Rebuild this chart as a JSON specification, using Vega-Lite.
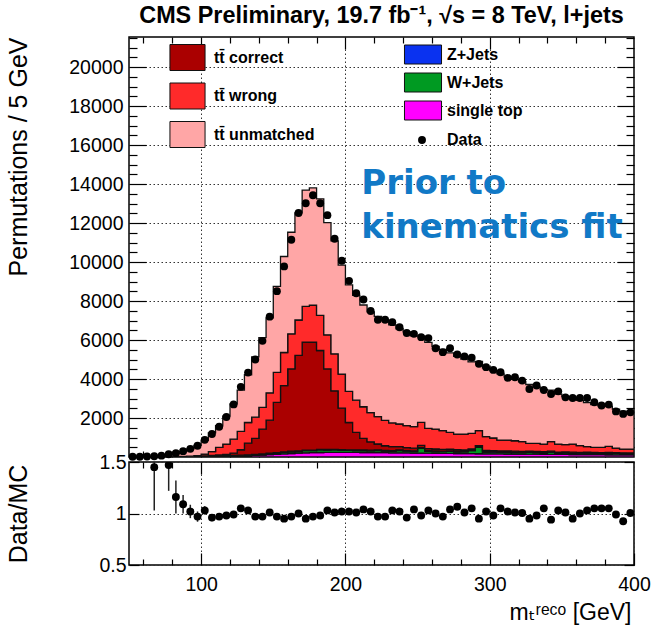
{
  "$schema": "https://vega.github.io/schema/vega-lite/v6.json",
  "padding": {"left": 5, "top": 3, "right": 0, "bottom": 0},
  "spacing": -11,
  "config": {
    "font": "Liberation Sans",
    "view": {"stroke": "#000", "strokeWidth": 1.5},
    "axis": {"domain": false, "labelFont": "Liberation Sans", "labelFontSize": 19.5, "labelColor": "#000", "tickColor": "#000", "tickWidth": 1.2, "titleFont": "Liberation Sans", "titleFontSize": 25, "titleFontWeight": "normal", "titleColor": "#000", "gridColor": "#333", "gridDash": [1.5, 2.5], "gridWidth": 1, "labelOverlap": false, "labelBound": false},
    "legend": {"labelFont": "Liberation Sans", "labelFontSize": 16, "labelFontWeight": "bold", "labelColor": "#000"}
  },
  "datasets": {
    "h": [
      {"lo":50,"m":52.5,"st":2,"wj":1,"zj":0,"c":0,"w":0,"u":1,"d":10,"r":2.5,"e":0.7},
      {"lo":55,"m":57.5,"st":3,"wj":1,"zj":0,"c":0,"w":0,"u":3,"d":15,"r":2.2,"e":0.5},
      {"lo":60,"m":62.5,"st":4,"wj":2,"zj":1,"c":1,"w":0,"u":5,"d":25,"r":1.9,"e":0.3},
      {"lo":65,"m":67.5,"st":5,"wj":2,"zj":1,"c":1,"w":1,"u":18,"d":40,"r":1.45,"e":0.42},
      {"lo":70,"m":72.5,"st":6,"wj":3,"zj":1,"c":2,"w":1,"u":28,"d":70,"r":1.75,"e":0.2},
      {"lo":75,"m":77.5,"st":8,"wj":3,"zj":2,"c":3,"w":2,"u":77,"d":140,"r":1.47,"e":0.25},
      {"lo":80,"m":82.5,"st":10,"wj":4,"zj":2,"c":5,"w":3,"u":148,"d":200,"r":1.16,"e":0.16},
      {"lo":85,"m":87.5,"st":12,"wj":5,"zj":3,"c":8,"w":4,"u":243,"d":300,"r":1.09,"e":0.09},
      {"lo":90,"m":92.5,"st":15,"wj":6,"zj":4,"c":12,"w":6,"u":370,"d":420,"r":1.02,"e":0.065},
      {"lo":95,"m":97.5,"st":18,"wj":7,"zj":5,"c":18,"w":20,"u":528,"d":580,"r":0.97,"e":0.05},
      {"lo":100,"m":102.5,"st":22,"wj":8,"zj":6,"c":25,"w":89,"u":703,"d":880,"r":1.03,"e":0.04},
      {"lo":105,"m":107.5,"st":27,"wj":10,"zj":8,"c":35,"w":192,"u":961,"d":1180,"r":0.96,"e":0.035},
      {"lo":110,"m":112.5,"st":33,"wj":12,"zj":9,"c":50,"w":390,"u":1109,"d":1550,"r":0.97,"e":0.03},
      {"lo":115,"m":117.5,"st":40,"wj":14,"zj":10,"c":70,"w":530,"u":1436,"d":2050,"r":0.98,"e":0.025},
      {"lo":120,"m":122.5,"st":48,"wj":16,"zj":12,"c":120,"w":720,"u":1811,"d":2700,"r":0.99,"e":0.02},
      {"lo":125,"m":127.5,"st":58,"wj":20,"zj":14,"c":280,"w":940,"u":2120,"d":3600,"r":1.05,"e":0.02},
      {"lo":130,"m":132.5,"st":70,"wj":25,"zj":16,"c":600,"w":1060,"u":2449,"d":4330,"r":1.03,"e":0.018},
      {"lo":135,"m":137.5,"st":85,"wj":30,"zj":18,"c":820,"w":1090,"u":3096,"d":5000,"r":0.97,"e":0.016},
      {"lo":140,"m":142.5,"st":100,"wj":40,"zj":20,"c":1270,"w":1120,"u":3575,"d":5960,"r":0.97,"e":0.015},
      {"lo":145,"m":147.5,"st":120,"wj":50,"zj":22,"c":1700,"w":1400,"u":3850,"d":7200,"r":1.01,"e":0.014},
      {"lo":150,"m":152.5,"st":140,"wj":60,"zj":24,"c":2580,"w":1540,"u":4406,"d":8510,"r":0.97,"e":0.013},
      {"lo":155,"m":157.5,"st":160,"wj":75,"zj":26,"c":3400,"w":1700,"u":4927,"d":9780,"r":0.95,"e":0.012},
      {"lo":160,"m":162.5,"st":180,"wj":90,"zj":28,"c":4220,"w":1800,"u":5214,"d":11150,"r":0.97,"e":0.011},
      {"lo":165,"m":167.5,"st":200,"wj":80,"zj":30,"c":4900,"w":1820,"u":5494,"d":12520,"r":1.0,"e":0.011},
      {"lo":170,"m":172.5,"st":215,"wj":110,"zj":30,"c":5540,"w":1830,"u":5969,"d":13020,"r":0.95,"e":0.01},
      {"lo":175,"m":177.5,"st":225,"wj":100,"zj":32,"c":5530,"w":1900,"u":6020,"d":13430,"r":0.97,"e":0.01},
      {"lo":180,"m":182.5,"st":232,"wj":130,"zj":32,"c":5070,"w":1800,"u":5984,"d":13020,"r":0.98,"e":0.01},
      {"lo":185,"m":187.5,"st":236,"wj":120,"zj":33,"c":4130,"w":1750,"u":5752,"d":12410,"r":1.03,"e":0.011},
      {"lo":190,"m":192.5,"st":238,"wj":125,"zj":33,"c":3000,"w":1900,"u":5796,"d":11200,"r":1.01,"e":0.011},
      {"lo":195,"m":197.5,"st":238,"wj":105,"zj":34,"c":2130,"w":1750,"u":5589,"d":10070,"r":1.02,"e":0.012},
      {"lo":200,"m":202.5,"st":236,"wj":100,"zj":34,"c":1400,"w":1600,"u":5463,"d":9040,"r":1.02,"e":0.012},
      {"lo":205,"m":207.5,"st":233,"wj":100,"zj":34,"c":900,"w":1650,"u":5383,"d":8400,"r":1.01,"e":0.012},
      {"lo":210,"m":212.5,"st":230,"wj":95,"zj":34,"c":600,"w":1620,"u":5221,"d":8080,"r":1.04,"e":0.012},
      {"lo":215,"m":217.5,"st":227,"wj":90,"zj":33,"c":430,"w":1500,"u":5170,"d":7490,"r":1.02,"e":0.012},
      {"lo":220,"m":222.5,"st":224,"wj":110,"zj":33,"c":300,"w":1400,"u":5153,"d":7040,"r":0.97,"e":0.012},
      {"lo":225,"m":227.5,"st":220,"wj":85,"zj":32,"c":240,"w":1300,"u":5143,"d":7040,"r":0.97,"e":0.012},
      {"lo":230,"m":232.5,"st":216,"wj":80,"zj":32,"c":200,"w":1220,"u":5032,"d":6920,"r":1.03,"e":0.012},
      {"lo":235,"m":237.5,"st":212,"wj":120,"zj":31,"c":170,"w":1160,"u":4887,"d":6660,"r":1.02,"e":0.013},
      {"lo":240,"m":242.5,"st":208,"wj":90,"zj":31,"c":150,"w":1130,"u":4811,"d":6360,"r":0.96,"e":0.013},
      {"lo":245,"m":247.5,"st":204,"wj":85,"zj":30,"c":135,"w":1100,"u":4666,"d":6320,"r":1.04,"e":0.013},
      {"lo":250,"m":252.5,"st":200,"wj":250,"zj":30,"c":120,"w":1179,"u":4420,"d":6150,"r":0.98,"e":0.013},
      {"lo":255,"m":257.5,"st":196,"wj":95,"zj":29,"c":110,"w":1040,"u":4410,"d":6100,"r":1.03,"e":0.013},
      {"lo":260,"m":262.5,"st":192,"wj":90,"zj":29,"c":100,"w":1023,"u":4246,"d":5580,"r":1.0,"e":0.014},
      {"lo":265,"m":267.5,"st":188,"wj":85,"zj":28,"c":92,"w":957,"u":4170,"d":5380,"r":0.97,"e":0.014},
      {"lo":270,"m":272.5,"st":184,"wj":100,"zj":28,"c":85,"w":868,"u":4075,"d":5580,"r":1.04,"e":0.014},
      {"lo":275,"m":277.5,"st":180,"wj":90,"zj":27,"c":78,"w":802,"u":3983,"d":5260,"r":1.065,"e":0.014},
      {"lo":280,"m":282.5,"st":176,"wj":85,"zj":27,"c":72,"w":817,"u":3843,"d":5160,"r":1.01,"e":0.014},
      {"lo":285,"m":287.5,"st":172,"wj":150,"zj":26,"c":66,"w":796,"u":3670,"d":5090,"r":1.05,"e":0.015},
      {"lo":290,"m":292.5,"st":168,"wj":330,"zj":26,"c":60,"w":766,"u":3550,"d":4780,"r":0.95,"e":0.015},
      {"lo":295,"m":297.5,"st":165,"wj":90,"zj":25,"c":56,"w":706,"u":3538,"d":4610,"r":1.02,"e":0.015},
      {"lo":300,"m":302.5,"st":162,"wj":85,"zj":25,"c":52,"w":651,"u":3455,"d":4470,"r":0.98,"e":0.015},
      {"lo":305,"m":307.5,"st":158,"wj":80,"zj":24,"c":48,"w":559,"u":3391,"d":4350,"r":1.05,"e":0.016},
      {"lo":310,"m":312.5,"st":155,"wj":85,"zj":24,"c":45,"w":560,"u":3241,"d":4060,"r":1.02,"e":0.016},
      {"lo":315,"m":317.5,"st":152,"wj":80,"zj":23,"c":42,"w":538,"u":3155,"d":4090,"r":1.01,"e":0.016},
      {"lo":320,"m":322.5,"st":149,"wj":75,"zj":23,"c":40,"w":497,"u":3076,"d":3920,"r":1.005,"e":0.017},
      {"lo":325,"m":327.5,"st":146,"wj":90,"zj":22,"c":38,"w":404,"u":3020,"d":3490,"r":0.95,"e":0.017},
      {"lo":330,"m":332.5,"st":143,"wj":80,"zj":22,"c":36,"w":419,"u":2900,"d":3670,"r":0.98,"e":0.017},
      {"lo":335,"m":337.5,"st":140,"wj":75,"zj":21,"c":34,"w":393,"u":2797,"d":3440,"r":1.05,"e":0.018},
      {"lo":340,"m":342.5,"st":137,"wj":110,"zj":21,"c":32,"w":484,"u":2650,"d":3230,"r":0.94,"e":0.018},
      {"lo":345,"m":347.5,"st":134,"wj":70,"zj":20,"c":30,"w":409,"u":2560,"d":3370,"r":1.03,"e":0.018},
      {"lo":350,"m":352.5,"st":131,"wj":80,"zj":20,"c":28,"w":371,"u":2480,"d":3060,"r":1.01,"e":0.019},
      {"lo":355,"m":357.5,"st":128,"wj":75,"zj":19,"c":27,"w":414,"u":2400,"d":3030,"r":0.95,"e":0.019},
      {"lo":360,"m":362.5,"st":125,"wj":70,"zj":19,"c":26,"w":340,"u":2330,"d":3030,"r":1.0,"e":0.019},
      {"lo":365,"m":367.5,"st":122,"wj":80,"zj":18,"c":25,"w":283,"u":2260,"d":3030,"r":1.03,"e":0.02},
      {"lo":370,"m":372.5,"st":120,"wj":70,"zj":18,"c":24,"w":262,"u":2200,"d":2810,"r":1.05,"e":0.02},
      {"lo":375,"m":377.5,"st":118,"wj":65,"zj":17,"c":23,"w":271,"u":2130,"d":2640,"r":1.05,"e":0.02},
      {"lo":380,"m":382.5,"st":116,"wj":75,"zj":17,"c":22,"w":315,"u":2060,"d":2690,"r":1.05,"e":0.02},
      {"lo":385,"m":387.5,"st":114,"wj":70,"zj":16,"c":21,"w":239,"u":2000,"d":2340,"r":0.99,"e":0.021},
      {"lo":390,"m":392.5,"st":112,"wj":65,"zj":16,"c":20,"w":195,"u":1950,"d":2210,"r":0.925,"e":0.022},
      {"lo":395,"m":397.5,"st":110,"wj":60,"zj":15,"c":19,"w":204,"u":1890,"d":2290,"r":1.005,"e":0.022},
      {"lo":400,"st":110,"wj":60,"zj":15,"c":19,"w":204,"u":1890}
    ]
  },
  "resolve": {
    "scale": {"color": "independent", "fill": "independent", "shape": "independent"},
    "legend": {"color": "independent", "fill": "independent", "shape": "independent"}
  },
  "vconcat": [
    {
      "width": 505,
      "height": 420,
      "title": {"text": "CMS Preliminary, 19.7 fb⁻¹,  √s = 8 TeV, l+jets", "anchor": "middle", "fontSize": 23.4, "fontWeight": "bold", "font": "Liberation Sans", "color": "#000", "offset": 8},
      "resolve": {"axis": {"x": "independent", "y": "independent"}},
      "layer": [
        {
          "data": {"name": "h"},
          "transform": [
            {"fold": ["st", "wj", "zj", "c", "w", "u"], "as": ["comp", "val"]},
            {"calculate": "indexof(['st','wj','zj','c','w','u'], datum.comp)", "as": "ord"}
          ],
          "mark": {"type": "area", "interpolate": "step-after", "stroke": "#111", "strokeWidth": 1.3, "clip": true},
          "encoding": {
            "x": {"field": "lo", "type": "quantitative", "scale": {"domain": [50, 400], "nice": false, "zero": false},
                  "axis": {"orient": "bottom", "values": [100, 200, 300], "tickSize": -12, "labels": false, "grid": true, "title": null}},
            "y": {"field": "val", "type": "quantitative", "stack": "zero", "scale": {"domain": [0, 21550], "nice": false},
                  "axis": {"orient": "left", "values": [2000, 4000, 6000, 8000, 10000, 12000, 14000, 16000, 18000, 20000], "format": "d", "tickSize": -17, "labelPadding": 23, "grid": true,
                           "title": "Permutations / 5 GeV", "titleX": -111, "titleY": 0, "titleAlign": "right", "titleBaseline": "middle", "titleAngle": -90}},
            "color": {"field": "comp", "type": "nominal",
                      "scale": {"domain": ["c", "w", "u", "zj", "wj", "st"], "range": ["#aa0000", "#ff2a2a", "#ffa6a6", "#0a32f0", "#009a22", "#ff00ff"]},
                      "legend": {"values": ["c", "w", "u"], "labelExpr": "{'c':'tt̄ correct','w':'tt̄ wrong','u':'tt̄ unmatched'}[datum.label]",
                                 "orient": "none", "legendX": 45, "legendY": 7, "title": null,
                                 "symbolType": "M-1.35,-1L1.35,-1L1.35,1L-1.35,1Z", "symbolSize": 676, "symbolStrokeColor": "#111", "symbolStrokeWidth": 1, "symbolOpacity": 1,
                                 "rowPadding": 7.5, "labelOffset": 13}},
            "order": {"field": "ord", "type": "quantitative"}
          }
        },
        {
          "data": {"name": "h"},
          "transform": [{"fold": ["zj", "wj", "st"], "as": ["comp2", "val2"]}],
          "mark": {"type": "square", "size": 0, "opacity": 1, "filled": true},
          "encoding": {
            "x": {"field": "lo", "type": "quantitative", "scale": {"domain": [50, 400], "nice": false, "zero": false},
                  "axis": {"orient": "bottom", "values": [60, 80, 120, 140, 160, 180, 220, 240, 260, 280, 320, 340, 360, 380], "tickSize": -6, "labels": false, "grid": false, "title": null}},
            "y": {"field": "val2", "type": "quantitative", "scale": {"domain": [0, 21550], "nice": false},
                  "axis": {"orient": "left", "values": [500, 1000, 1500, 2500, 3000, 3500, 4500, 5000, 5500, 6500, 7000, 7500, 8500, 9000, 9500, 10500, 11000, 11500, 12500, 13000, 13500, 14500, 15000, 15500, 16500, 17000, 17500, 18500, 19000, 19500, 20500, 21000, 21500], "tickSize": -8, "labels": false, "grid": false, "title": null}},
            "fill": {"field": "comp2", "type": "nominal",
                     "scale": {"domain": ["zj", "wj", "st"], "range": ["#0a32f0", "#009a22", "#ff00ff"]},
                     "legend": {"labelExpr": "{'zj':'Z+Jets','wj':'W+Jets','st':'single top'}[datum.label]",
                                "orient": "none", "legendX": 284, "legendY": 7.5, "title": null,
                                "symbolType": "M-1.95,-1L1.95,-1L1.95,1L-1.95,1Z", "symbolSize": 361, "symbolStrokeColor": "#111", "symbolStrokeWidth": 1, "symbolOpacity": 1,
                                "rowPadding": 4, "labelOffset": 14}}
          }
        },
        {
          "data": {"name": "h"},
          "transform": [{"filter": "isValid(datum.d)"}],
          "mark": {"type": "point", "filled": true, "color": "#000", "opacity": 1, "size": 62},
          "encoding": {
            "x": {"field": "m", "type": "quantitative", "scale": {"domain": [50, 400], "nice": false, "zero": false},
                  "axis": {"orient": "top", "values": [100, 200, 300], "tickSize": -12, "labels": false, "grid": false, "title": null}},
            "y": {"field": "d", "type": "quantitative", "scale": {"domain": [0, 21550], "nice": false},
                  "axis": {"orient": "right", "values": [2000, 4000, 6000, 8000, 10000, 12000, 14000, 16000, 18000, 20000], "tickSize": -17, "labels": false, "grid": false, "title": null}},
            "shape": {"datum": "Data", "type": "nominal", "scale": {"range": ["circle"]},
                      "legend": {"orient": "none", "legendX": 285, "legendY": 95, "title": null, "symbolSize": 62, "symbolFillColor": "#000", "symbolStrokeWidth": 0, "symbolOpacity": 1, "labelOffset": 17}}
          }
        },
        {
          "data": {"name": "h"},
          "transform": [{"filter": "isValid(datum.d)"}],
          "mark": {"type": "point", "size": 0, "opacity": 0},
          "encoding": {
            "x": {"field": "m", "type": "quantitative", "scale": {"domain": [50, 400], "nice": false, "zero": false},
                  "axis": {"orient": "top", "values": [60, 80, 120, 140, 160, 180, 220, 240, 260, 280, 320, 340, 360, 380], "tickSize": -6, "labels": false, "grid": false, "title": null}},
            "y": {"field": "d", "type": "quantitative", "scale": {"domain": [0, 21550], "nice": false},
                  "axis": {"orient": "right", "values": [500, 1000, 1500, 2500, 3000, 3500, 4500, 5000, 5500, 6500, 7000, 7500, 8500, 9000, 9500, 10500, 11000, 11500, 12500, 13000, 13500, 14500, 15000, 15500, 16500, 17000, 17500, 18500, 19000, 19500, 20500, 21000, 21500], "tickSize": -8, "labels": false, "grid": false, "title": null}}
          }
        },
        {
          "data": {"values": [{}]},
          "mark": {"type": "text", "align": "left", "baseline": "alphabetic", "font": "DejaVu Sans", "fontWeight": "bold", "fontSize": 34, "color": "#1179c6", "lineHeight": 44},
          "encoding": {
            "x": {"datum": 211, "type": "quantitative", "axis": null},
            "y": {"datum": 13480, "type": "quantitative", "axis": null},
            "text": {"value": ["Prior to", "kinematics fit"]}
          }
        }
      ]
    },
    {
      "width": 505,
      "height": 103,
      "resolve": {"axis": {"x": "independent", "y": "independent"}},
      "layer": [
        {
          "data": {"name": "h"},
          "transform": [{"filter": "isValid(datum.d) && datum.r <= 1.5"}],
          "mark": {"type": "errorbar", "clip": true, "color": "#222", "rule": {"strokeWidth": 1.5}},
          "encoding": {
            "x": {"field": "m", "type": "quantitative", "scale": {"domain": [50, 400], "nice": false, "zero": false},
                  "axis": {"orient": "bottom", "values": [60, 80, 120, 140, 160, 180, 220, 240, 260, 280, 320, 340, 360, 380], "tickSize": -6, "labels": false, "grid": false, "title": null}},
            "y": {"field": "r", "type": "quantitative", "scale": {"domain": [0.5, 1.5], "nice": false, "zero": false, "clamp": true}, "axis": null},
            "yError": {"field": "e"}
          }
        },
        {
          "data": {"name": "h"},
          "transform": [{"filter": "isValid(datum.d) && datum.r <= 1.5"}],
          "mark": {"type": "point", "filled": true, "color": "#000", "opacity": 1, "size": 62, "clip": true},
          "encoding": {
            "x": {"field": "m", "type": "quantitative", "scale": {"domain": [50, 400], "nice": false, "zero": false},
                  "axis": {"orient": "bottom", "values": [100, 200, 300, 400], "tickSize": -12, "labelPadding": 22, "labelFlush": false, "grid": true,
                           "title": "mₜʳᵉᶜᵒ [GeV]", "titleX": 502, "titleY": 47, "titleAlign": "right", "titleBaseline": "middle", "titleFont": "Liberation Sans, DejaVu Sans", "titleFontSize": 23}},
            "y": {"field": "r", "type": "quantitative", "scale": {"domain": [0.5, 1.5], "nice": false, "zero": false, "clamp": true},
                  "axis": {"orient": "left", "values": [0.5, 1, 1.5], "format": "~g", "tickSize": -10, "labelPadding": 13, "grid": true,
                           "title": "Data/MC", "titleX": -111, "titleY": 51.5, "titleAlign": "center", "titleBaseline": "middle", "titleAngle": -90}}
          }
        },
        {
          "data": {"name": "h"},
          "transform": [{"filter": "isValid(datum.d) && datum.r <= 1.5"}],
          "mark": {"type": "point", "size": 0, "opacity": 0},
          "encoding": {
            "x": {"field": "m", "type": "quantitative", "scale": {"domain": [50, 400], "nice": false, "zero": false},
                  "axis": {"orient": "top", "values": [100, 200, 300], "tickSize": -12, "labels": false, "grid": false, "title": null}},
            "y": {"field": "r", "type": "quantitative", "scale": {"domain": [0.5, 1.5], "nice": false, "zero": false, "clamp": true},
                  "axis": {"orient": "right", "values": [0.5, 1, 1.5], "tickSize": -10, "labels": false, "grid": false, "title": null}}
          }
        },
        {
          "data": {"name": "h"},
          "transform": [{"filter": "isValid(datum.d) && datum.r <= 1.5"}],
          "mark": {"type": "point", "size": 0, "opacity": 0},
          "encoding": {
            "x": {"field": "m", "type": "quantitative", "scale": {"domain": [50, 400], "nice": false, "zero": false},
                  "axis": {"orient": "top", "values": [60, 80, 120, 140, 160, 180, 220, 240, 260, 280, 320, 340, 360, 380], "tickSize": -6, "labels": false, "grid": false, "title": null}},
            "y": {"field": "r", "type": "quantitative", "scale": {"domain": [0.5, 1.5], "nice": false, "zero": false, "clamp": true}, "axis": null}
          }
        }
      ]
    }
  ]
}
